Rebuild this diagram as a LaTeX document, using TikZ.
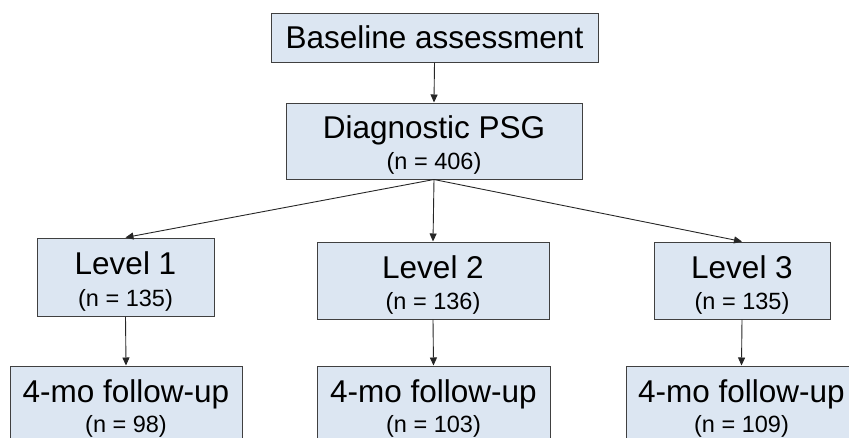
\documentclass[tikz,border=0pt]{standalone}
\usepackage{fontspec}
\setmainfont{Liberation Sans}
\usetikzlibrary{arrows.meta}
\definecolor{boxfill}{HTML}{DCE6F2}
\definecolor{edgecol}{HTML}{404040}
\newcommand{\bigtxt}{\fontsize{31.5}{36}\selectfont}
\newcommand{\smalltxt}{\fontsize{23.5}{28}\selectfont}
\begin{document}
\begin{tikzpicture}[x=1pt,y=-1pt,
  box/.style={draw=edgecol, fill=boxfill, line width=1pt, inner sep=0pt},
  main/.style={anchor=base, inner sep=0pt, font=\bigtxt},
  sub/.style={anchor=base, inner sep=0pt, font=\smalltxt},
  conn/.style={draw=black!85, line width=0.9pt, -{Triangle[length=8pt,width=7pt]}}]
\useasboundingbox (0,0) rectangle (849,437);
\clip (0,0) rectangle (849,437);
% boxes
\node[box, minimum width=327pt, minimum height=49pt] (base) at (434.5,37.5) {};
\node[box, minimum width=296pt, minimum height=76pt] (diag) at (434,141) {};
\node[box, minimum width=177pt, minimum height=78pt] (l1) at (125.5,277) {};
\node[box, minimum width=232pt, minimum height=77pt] (l2) at (433,280.5) {};
\node[box, minimum width=176pt, minimum height=77pt] (l3) at (742,280.5) {};
\node[box, minimum width=232pt, minimum height=78pt] (f1) at (126,405) {};
\node[box, minimum width=233pt, minimum height=78pt] (f2) at (433.5,405) {};
\node[box, minimum width=231pt, minimum height=78pt] (f3) at (741.5,405) {};
% labels
\node[main] (tbase) at (434.5,48) {Baseline assessment};
\node[main] (tdiag) at (434,138) {Diagnostic PSG};
\node[sub] (sdiag) at (434,169) {(n = 406)};
\node[main] (tl1) at (125.5,274) {Level 1};
\node[sub] (sl1) at (125.5,306) {(n = 135)};
\node[main] (tl2) at (433,278) {Level 2};
\node[sub] (sl2) at (433,309) {(n = 136)};
\node[main] (tl3) at (742,278) {Level 3};
\node[sub] (sl3) at (742,309) {(n = 135)};
\node[main] (tf1) at (126,402) {4-mo follow-up};
\node[sub] (sf1) at (126,432) {(n = 98)};
\node[main] (tf2) at (433.5,402) {4-mo follow-up};
\node[sub] (sf2) at (433.5,432) {(n = 103)};
\node[main] (tf3) at (741.5,402) {4-mo follow-up};
\node[sub] (sf3) at (741.5,432) {(n = 109)};
% connectors
\draw[conn] (base.south) -- (diag.north);
\draw[conn] (diag.south) -- (l1.north);
\draw[conn] (diag.south) -- (l2.north);
\draw[conn] (diag.south) -- (l3.north);
\draw[conn] (l1.south) -- (f1.north);
\draw[conn] (l2.south) -- (f2.north);
\draw[conn] (l3.south) -- (f3.north);
\end{tikzpicture}
\end{document}
